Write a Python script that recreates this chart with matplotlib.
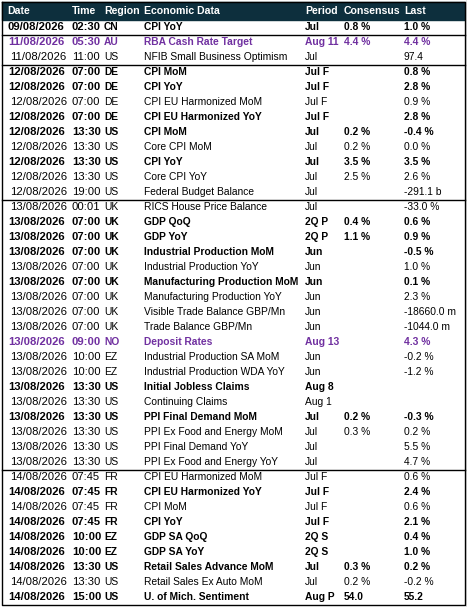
import matplotlib
matplotlib.use("Agg")
import matplotlib.pyplot as plt

dates = ["09/08/2026"] + ["11/08/2026"] * 2 + ["12/08/2026"] * 9 + ["13/08/2026"] * 18 + ["14/08/2026"] * 9
times = ["02:30", "05:30", "11:00", "07:00", "07:00", "07:00", "07:00", "13:30", "13:30", "13:30", "13:30", "19:00",
         "00:01", "07:00", "07:00", "07:00", "07:00", "07:00", "07:00", "07:00", "07:00", "09:00", "10:00", "10:00",
         "13:30", "13:30", "13:30", "13:30", "13:30", "13:30",
         "07:45", "07:45", "07:45", "07:45", "10:00", "10:00", "13:30", "13:30", "15:00"]
regions = ["CN", "AU", "US", "DE", "DE", "DE", "DE", "US", "US", "US", "US", "US",
           "UK", "UK", "UK", "UK", "UK", "UK", "UK", "UK", "UK", "NO", "EZ", "EZ",
           "US", "US", "US", "US", "US", "US",
           "FR", "FR", "FR", "FR", "EZ", "EZ", "US", "US", "US"]
events = ["CPI YoY", "RBA Cash Rate Target", "NFIB Small Business Optimism",
          "CPI MoM", "CPI YoY", "CPI EU Harmonized MoM", "CPI EU Harmonized YoY",
          "CPI MoM", "Core CPI MoM", "CPI YoY", "Core CPI YoY", "Federal Budget Balance",
          "RICS House Price Balance", "GDP QoQ", "GDP YoY", "Industrial Production MoM",
          "Industrial Production YoY", "Manufacturing Production MoM", "Manufacturing Production YoY",
          "Visible Trade Balance GBP/Mn", "Trade Balance GBP/Mn", "Deposit Rates",
          "Industrial Production SA MoM", "Industrial Production WDA YoY",
          "Initial Jobless Claims", "Continuing Claims", "PPI Final Demand MoM",
          "PPI Ex Food and Energy MoM", "PPI Final Demand YoY", "PPI Ex Food and Energy YoY",
          "CPI EU Harmonized MoM", "CPI EU Harmonized YoY", "CPI MoM", "CPI YoY",
          "GDP SA QoQ", "GDP SA YoY", "Retail Sales Advance MoM", "Retail Sales Ex Auto MoM",
          "U. of Mich. Sentiment"]
periods = ["Jul", "Aug 11", "Jul", "Jul F", "Jul F", "Jul F", "Jul F", "Jul", "Jul", "Jul", "Jul", "Jul",
           "Jul", "2Q P", "2Q P", "Jun", "Jun", "Jun", "Jun", "Jun", "Jun", "Aug 13", "Jun", "Jun",
           "Aug 8", "Aug 1", "Jul", "Jul", "Jul", "Jul",
           "Jul F", "Jul F", "Jul F", "Jul F", "2Q S", "2Q S", "Jul", "Jul", "Aug P"]
consensus = ["0.8 %", "4.4 %", "", "", "", "", "", "0.2 %", "0.2 %", "3.5 %", "2.5 %", "",
             "", "0.4 %", "1.1 %", "", "", "", "", "", "", "", "", "",
             "", "", "0.2 %", "0.3 %", "", "",
             "", "", "", "", "", "", "0.3 %", "0.2 %", "54.0"]
last = ["1.0 %", "4.4 %", "97.4", "0.8 %", "2.8 %", "0.9 %", "2.8 %", "-0.4 %", "0.0 %", "3.5 %", "2.6 %", "-291.1 b",
        "-33.0 %", "0.6 %", "0.9 %", "-0.5 %", "1.0 %", "0.1 %", "2.3 %", "-18660.0 m", "-1044.0 m", "4.3 %",
        "-0.2 %", "-1.2 %", "", "", "-0.3 %", "0.2 %", "5.5 %", "4.7 %",
        "0.6 %", "2.4 %", "0.6 %", "2.1 %", "0.4 %", "1.0 %", "0.2 %", "-0.2 %", "55.2"]
# b = bold, p = purple bold, n = normal
styles = "bpnbbnbbnbnn" + "nbbbnbnnnpnn" + "bnbnnn" + "nbnbbbbnb"
headers = ["Date", "Time", "Region", "Economic Data", "Period", "Consensus", "Last"]

W, H = 467, 607
fig = plt.figure(figsize=(W / 100, H / 100), dpi=100)
ax = fig.add_axes([0, 0, 1, 1])
ax.set_xlim(0, W)
ax.set_ylim(H, 0)
ax.axis("off")

# faint excel gridline
ax.axvline(466, color="#d9d9d9", lw=0.6)

top, rh = 19.5, 15.0
ax.add_patch(plt.Rectangle((2, 2), 463, top - 2, color="#0d2f3d"))
colx = [7, 72, 104, 144, 305, 344, 404]
for x, h in zip(colx, headers):
    ax.text(x, top / 2 + 1, h, color="white", fontweight="bold", fontsize=7.6,
            family="Liberation Sans", va="center")

fs = 7.4
for i in range(len(events)):
    y = top + rh * (i + 0.5)
    st = styles[i]
    color = "#7030a0" if st == "p" else "black"
    fw = "normal" if st == "n" else "bold"
    dx = 10 if st == "n" else 8
    ax.text(dx, y, dates[i], va="center", fontsize=8.1, color=color, fontweight=fw, family="Liberation Sans")
    ax.text(72, y, times[i], va="center", fontsize=8.1, color=color, fontweight=fw, family="Liberation Sans")
    vals = [regions[i], events[i], periods[i], consensus[i], last[i]]
    for x, v in zip(colx[2:], vals):
        ax.text(x, y, v, va="center", fontsize=fs, color=color, fontweight=fw, family="Liberation Sans")

# day separators and frame
ax.plot([2, 2, 465, 465, 2], [2, top + rh * 39, top + rh * 39, 2, 2], color="black", lw=1.0)
for n in [1, 3, 12, 30]:
    yy = top + rh * n
    ax.plot([2, 465], [yy, yy], color="black", lw=1.0)

fig.savefig("out.png", dpi=100)
